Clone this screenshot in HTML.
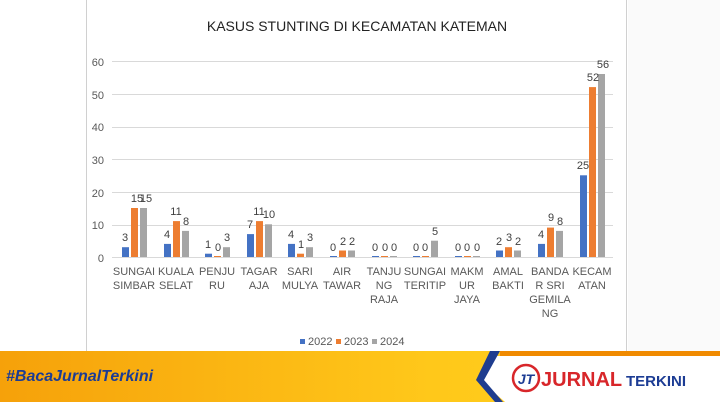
<!DOCTYPE html>
<html><head><meta charset="utf-8"><style>
html,body{margin:0;padding:0;width:720px;height:402px;overflow:hidden;background:#fff;font-family:"Liberation Sans",sans-serif}
</style></head><body>
<svg width="720" height="402" viewBox="0 0 720 402" xmlns="http://www.w3.org/2000/svg" font-family="Liberation Sans, sans-serif">
<defs>
<linearGradient id="bg" x1="0" y1="0" x2="1" y2="0">
<stop offset="0" stop-color="#f6a10a"/><stop offset="0.6" stop-color="#ffc81a"/><stop offset="1" stop-color="#ffd21f"/></linearGradient>
</defs>
<rect x="628" y="0" width="92" height="351" fill="#fafafa"/>
<line x1="86.5" y1="0" x2="86.5" y2="351" stroke="#d0d0d0"/>
<line x1="626.5" y1="0" x2="626.5" y2="351" stroke="#d0d0d0"/>
<text x="357" y="31" font-size="14" fill="#222" text-anchor="middle">KASUS STUNTING DI KECAMATAN KATEMAN</text>
<g stroke="#d9d9d9" stroke-width="1">
<line x1="112" y1="61.5" x2="613" y2="61.5"/><line x1="112" y1="94.5" x2="613" y2="94.5"/><line x1="112" y1="127.5" x2="613" y2="127.5"/><line x1="112" y1="159.5" x2="613" y2="159.5"/><line x1="112" y1="192.5" x2="613" y2="192.5"/><line x1="112" y1="225.5" x2="613" y2="225.5"/><line x1="112" y1="257.5" x2="613" y2="257.5"/>
</g>
<g font-size="11" fill="#595959" text-anchor="end">
<text x="104" y="66">60</text><text x="104" y="99">50</text><text x="104" y="131">40</text><text x="104" y="164">30</text><text x="104" y="197">20</text><text x="104" y="229">10</text><text x="104" y="262">0</text>
</g>
<g fill="#4472c4">
<rect x="122" y="247.2" width="7" height="9.8"/><rect x="164" y="243.9" width="7" height="13.1"/><rect x="205" y="253.7" width="7" height="3.3"/><rect x="247" y="234.1" width="7" height="22.9"/><rect x="288" y="243.9" width="7" height="13.1"/><rect x="330" y="256" width="7" height="1"/><rect x="372" y="256" width="7" height="1"/><rect x="413" y="256" width="7" height="1"/><rect x="455" y="256" width="7" height="1"/><rect x="496" y="250.5" width="7" height="6.5"/><rect x="538" y="243.9" width="7" height="13.1"/><rect x="580" y="175.3" width="7" height="81.7"/>
</g>
<g fill="#ed7d31">
<rect x="131" y="208" width="7" height="49"/><rect x="173" y="221.1" width="7" height="35.9"/><rect x="214" y="256" width="7" height="1"/><rect x="256" y="221.1" width="7" height="35.9"/><rect x="297" y="253.7" width="7" height="3.3"/><rect x="339" y="250.5" width="7" height="6.5"/><rect x="381" y="256" width="7" height="1"/><rect x="422" y="256" width="7" height="1"/><rect x="464" y="256" width="7" height="1"/><rect x="505" y="247.2" width="7" height="9.8"/><rect x="547" y="227.6" width="7" height="29.4"/><rect x="589" y="87.1" width="7" height="169.9"/>
</g>
<g fill="#a5a5a5">
<rect x="140" y="208" width="7" height="49"/><rect x="182" y="230.9" width="7" height="26.1"/><rect x="223" y="247.2" width="7" height="9.8"/><rect x="265" y="224.3" width="7" height="32.7"/><rect x="306" y="247.2" width="7" height="9.8"/><rect x="348" y="250.5" width="7" height="6.5"/><rect x="390" y="256" width="7" height="1"/><rect x="431" y="240.7" width="7" height="16.3"/><rect x="473" y="256" width="7" height="1"/><rect x="514" y="250.5" width="7" height="6.5"/><rect x="556" y="230.9" width="7" height="26.1"/><rect x="598" y="74" width="7" height="183"/>
</g>
<g font-size="11" fill="#404040" text-anchor="middle">
<text x="125" y="241">3</text><text x="137" y="202">15</text><text x="146" y="202">15</text>
<text x="167" y="238">4</text><text x="176" y="215">11</text><text x="186" y="225">8</text>
<text x="208" y="248">1</text><text x="218" y="251">0</text><text x="227" y="241">3</text>
<text x="250" y="228">7</text><text x="259" y="215">11</text><text x="269" y="218">10</text>
<text x="291" y="238">4</text><text x="301" y="248">1</text><text x="310" y="241">3</text>
<text x="333" y="251">0</text><text x="343" y="245">2</text><text x="352" y="245">2</text>
<text x="375" y="251">0</text><text x="385" y="251">0</text><text x="394" y="251">0</text>
<text x="416" y="251">0</text><text x="425" y="251">0</text><text x="435" y="235">5</text>
<text x="458" y="251">0</text><text x="467" y="251">0</text><text x="477" y="251">0</text>
<text x="499" y="245">2</text><text x="509" y="241">3</text><text x="518" y="245">2</text>
<text x="541" y="238">4</text><text x="551" y="221">9</text><text x="560" y="225">8</text>
<text x="583" y="169">25</text><text x="593" y="81">52</text><text x="603" y="68">56</text>
</g>
<g font-size="11" fill="#595959" text-anchor="middle">
<text x="134" y="275">SUNGAI</text><text x="134" y="289">SIMBAR</text>
<text x="176" y="275">KUALA</text><text x="176" y="289">SELAT</text>
<text x="217" y="275">PENJU</text><text x="217" y="289">RU</text>
<text x="259" y="275">TAGAR</text><text x="259" y="289">AJA</text>
<text x="300" y="275">SARI</text><text x="300" y="289">MULYA</text>
<text x="342" y="275">AIR</text><text x="342" y="289">TAWAR</text>
<text x="384" y="275">TANJU</text><text x="384" y="289">NG</text><text x="384" y="303">RAJA</text>
<text x="425" y="275">SUNGAI</text><text x="425" y="289">TERITIP</text>
<text x="467" y="275">MAKM</text><text x="467" y="289">UR</text><text x="467" y="303">JAYA</text>
<text x="508" y="275">AMAL</text><text x="508" y="289">BAKTI</text>
<text x="550" y="275">BANDA</text><text x="550" y="289">R SRI</text><text x="550" y="303">GEMILA</text><text x="550" y="317">NG</text>
<text x="592" y="275">KECAM</text><text x="592" y="289">ATAN</text>
</g>
<g font-size="11" fill="#595959">
<rect x="300" y="339" width="5" height="5" fill="#4472c4"/><text x="308" y="345">2022</text>
<rect x="336" y="339" width="5" height="5" fill="#ed7d31"/><text x="344" y="345">2023</text>
<rect x="372" y="339" width="5" height="5" fill="#a5a5a5"/><text x="380" y="345">2024</text>
</g>
<rect x="0" y="351" width="720" height="51" fill="url(#bg)"/>
<polygon points="495,356 720,356 720,402 505,402 480,380" fill="#ffffff"/>
<polygon points="490,351 500,351 484,380 503,402 495,402 476,380" fill="#1f3d8f"/>
<rect x="500" y="351" width="220" height="5" fill="#f08a00"/>
<text x="6" y="381" font-size="16" font-weight="bold" font-style="italic" fill="#1c3c94">#BacaJurnalTerkini</text>
<circle cx="526" cy="378" r="13" fill="none" stroke="#d8262a" stroke-width="2.5"/>
<text x="526" y="384" font-size="14" font-weight="bold" font-style="italic" fill="#1c3c94" text-anchor="middle">JT</text>
<text x="541" y="386" font-size="20" font-weight="bold" fill="#d8262a">JURNAL</text>
<text x="626" y="386" font-size="15" font-weight="bold" fill="#1c3c94">TERKINI</text>
</svg>
</body></html>
